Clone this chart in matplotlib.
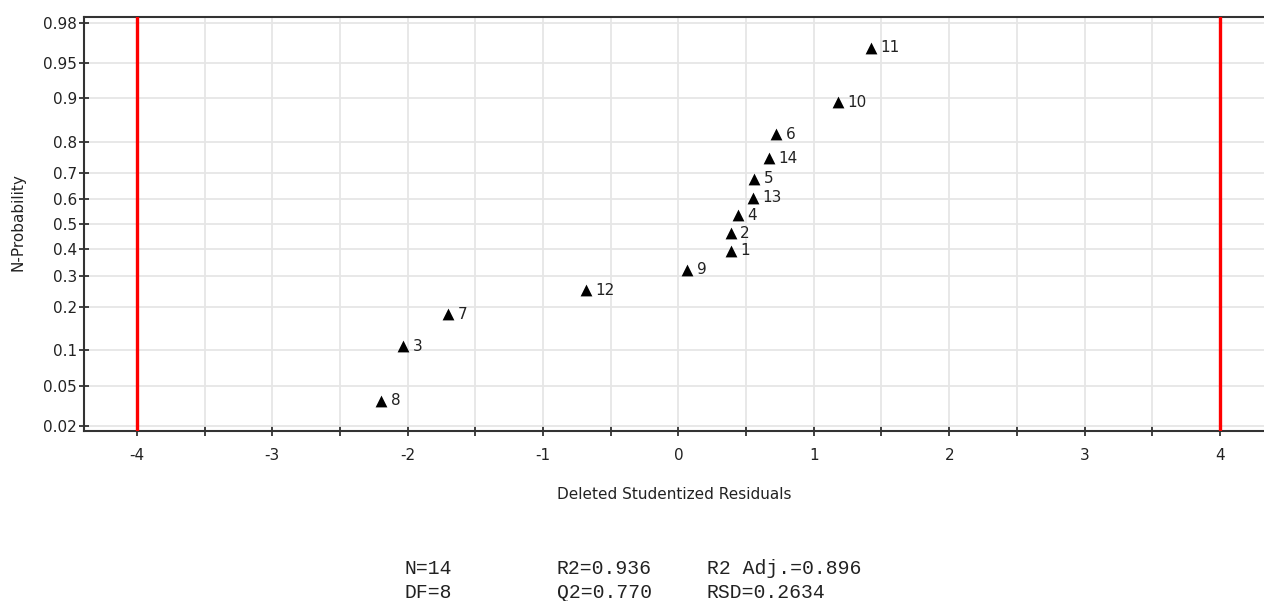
import math
import numpy as np
import matplotlib
matplotlib.use("Agg")
import matplotlib.pyplot as plt
from matplotlib.ticker import FixedLocator, FixedFormatter, MultipleLocator, FuncFormatter

# Observation labels, in order of increasing residual
obs_labels = ["8", "3", "7", "12", "9", "1", "2", "4", "13", "5", "14", "6", "10", "11"]
# Deleted studentized residuals
residuals = [-2.196, -2.033, -1.701, -0.684, 0.066, 0.385, 0.385, 0.437,
             0.548, 0.558, 0.669, 0.721, 1.176, 1.421]
# Normal probability plotting positions
n_prob = [0.036, 0.107, 0.179, 0.250, 0.321, 0.393, 0.464, 0.536,
          0.607, 0.679, 0.750, 0.821, 0.893, 0.964]

prob_ticks = [0.02, 0.05, 0.1, 0.2, 0.3, 0.4, 0.5, 0.6, 0.7, 0.8, 0.9, 0.95, 0.98]
prob_tick_labels = ["0.02", "0.05", "0.1", "0.2", "0.3", "0.4", "0.5",
                    "0.6", "0.7", "0.8", "0.9", "0.95", "0.98"]
limit_lines = [-4, 4]

stats_rows = [["N=14", "R2=0.936", "R2 Adj.=0.896"],
              ["DF=8", "Q2=0.770", "RSD=0.2634"]]


# Normal quantile function (Acklam's rational approximation)
_a = [-3.969683028665376e+01, 2.209460984245205e+02, -2.759285104469687e+02,
      1.383577518672690e+02, -3.066479806614716e+01, 2.506628277459239e+00]
_b = [-5.447609879822406e+01, 1.615858368580409e+02, -1.556989798598866e+02,
      6.680131188771972e+01, -1.328068155288572e+01]
_c = [-7.784894002430293e-03, -3.223964580411365e-01, -2.400758277161838e+00,
      -2.549732539343734e+00, 4.374664141464968e+00, 2.938163982698783e+00]
_d = [7.784695709041462e-03, 3.224671290700398e-01, 2.445134137142996e+00,
      3.754408661907416e+00]


def _ppf_scalar(p):
    p = min(max(p, 1e-12), 1 - 1e-12)
    plow = 0.02425
    if p < plow:
        q = math.sqrt(-2 * math.log(p))
        return (((((_c[0]*q+_c[1])*q+_c[2])*q+_c[3])*q+_c[4])*q+_c[5]) / \
               ((((_d[0]*q+_d[1])*q+_d[2])*q+_d[3])*q+1)
    if p > 1 - plow:
        q = math.sqrt(-2 * math.log(1 - p))
        return -(((((_c[0]*q+_c[1])*q+_c[2])*q+_c[3])*q+_c[4])*q+_c[5]) / \
                ((((_d[0]*q+_d[1])*q+_d[2])*q+_d[3])*q+1)
    q = p - 0.5
    r = q * q
    return (((((_a[0]*r+_a[1])*r+_a[2])*r+_a[3])*r+_a[4])*r+_a[5])*q / \
           (((((_b[0]*r+_b[1])*r+_b[2])*r+_b[3])*r+_b[4])*r+1)


def norm_ppf(p):
    arr = np.asarray(p, dtype=float)
    return np.vectorize(_ppf_scalar, otypes=[float])(arr)


def norm_cdf(z):
    arr = np.asarray(z, dtype=float)
    return np.vectorize(lambda v: 0.5 * (1 + math.erf(v / math.sqrt(2))), otypes=[float])(arr)


plt.rcParams["font.family"] = ["DejaVu Sans"]
text_color = "#222222"
axis_color = "#333333"
fs = 11

fig = plt.figure(figsize=(12.64, 6.01), dpi=100)
ax = fig.add_axes([84 / 1264, 1 - 431 / 601, 1 - 84 / 1264, (431 - 17) / 601])

ax.set_yscale("function", functions=(norm_ppf, norm_cdf))

ax.scatter(residuals, n_prob, marker="^", s=8.5 ** 2, color="black", zorder=5, linewidths=0)
for x, y, lab in zip(residuals, n_prob, obs_labels):
    ax.annotate(lab, (x, y), xytext=(7, 0), textcoords="offset points",
                ha="left", va="center", fontsize=fs, color=text_color, zorder=6)

for xv in limit_lines:
    ax.axvline(xv, color="#ff0000", lw=2.4, zorder=4)

ax.set_xlim(-4.39, 4.325)
ax.set_ylim(norm_cdf(-2.108), norm_cdf(2.112))

ax.xaxis.set_major_locator(MultipleLocator(0.5))
ax.xaxis.set_major_formatter(FuncFormatter(
    lambda v, pos: f"{int(round(v))}" if abs(v - round(v)) < 1e-9 else ""))
ax.yaxis.set_major_locator(FixedLocator(prob_ticks))
ax.yaxis.set_major_formatter(FixedFormatter(prob_tick_labels))
ax.yaxis.set_minor_locator(FixedLocator([]))

ax.grid(True, color="#e6e6e6", lw=1.3, zorder=0)
ax.set_axisbelow(True)

ax.tick_params(axis="both", direction="inout", length=7, width=1.3, color=axis_color,
               labelsize=fs, labelcolor=text_color)
ax.tick_params(axis="x", pad=9)
ax.tick_params(axis="y", pad=1.5)

for side in ["left", "bottom", "top"]:
    ax.spines[side].set_color(axis_color)
    ax.spines[side].set_linewidth(1.5)
ax.spines["right"].set_visible(False)

ax.set_xlabel("Deleted Studentized Residuals", fontsize=fs, color=text_color, labelpad=17)
fig.text(18 / 1264, 1 - 222 / 601, "N-Probability", rotation=90, ha="center", va="center",
         fontsize=fs, color=text_color)

col_x = [405, 557, 707]
row_y = [569, 593]
for r, row in enumerate(stats_rows):
    for c, txt in enumerate(row):
        fig.text(col_x[c] / 1264, 1 - row_y[r] / 601, txt, ha="left", va="center",
                 fontsize=14.2, family="Liberation Mono", color=text_color)

fig.savefig("out.png", dpi=100)
